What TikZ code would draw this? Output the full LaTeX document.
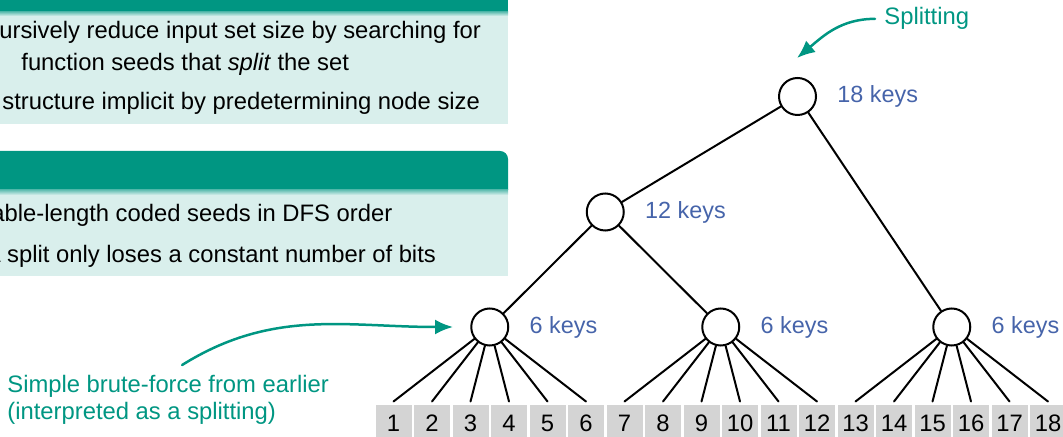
\documentclass[tikz,border=0pt]{standalone}
\usepackage{fontspec}
\setmainfont{Liberation Sans}
\usepackage{tikz}
\usetikzlibrary{arrows.meta,positioning}
\definecolor{kitgreen}{RGB}{0,150,130}
\definecolor{kitblue}{RGB}{70,100,170}

\begin{document}
\begin{tikzpicture}[x=0.5pt,y=0.5pt,>={Latex[length=9pt,width=7.5pt]},
  font=\fontsize{11.9pt}{14pt}\selectfont,line cap=round,
  splitnode/.style={circle,draw,line width=1pt,minimum size=18.5pt,inner sep=0pt,fill=white},
  keylab/.style={text=kitblue,inner sep=0pt,font=\fontsize{11.7pt}{14pt}\selectfont},
  keybox/.style={fill=black!17,minimum width=18pt,minimum height=18pt,inner sep=0pt,outer sep=1.75pt},
  blocktext/.style={anchor=base west,inner sep=0pt},
  notetext/.style={text=kitgreen,inner sep=0pt,align=left,font=\fontsize{11.9pt}{13.5pt}\selectfont},
  notearrow/.style={->,draw=kitgreen,line width=1.25pt},
  treeline/.style={line width=1pt}]
\useasboundingbox (0,0) rectangle (1063,-437);
\clip (0,0) rectangle (1063,-437);
\fill[kitgreen] (-20,20) rectangle (508,-12);
\shade[top color=kitgreen!60!white,bottom color=kitgreen!15] (-20,-12) rectangle (508,-16);
\fill[kitgreen!15] (-20,-16) rectangle (508,-124);
\fill[kitgreen] (-20,-190) -- (-20,-151) [rounded corners=4pt] -- (508,-151) [sharp corners] -- (508,-190) -- cycle;
\shade[top color=kitgreen!60!white,bottom color=kitgreen!15] (-20,-190) rectangle (508,-195);
\fill[kitgreen!15] (-20,-195) rectangle (508,-276);
\node[blocktext] (recurse) at (-1,-39) {ursively reduce input set size by searching for};
\node[blocktext] (seeds) at (21,-70.5) {function seeds that \emph{split} the set};
\node[blocktext] (implicit) at (2,-110) {structure implicit by predetermining node size};
\node[blocktext] (dfs) at (-9,-222) {able-length coded seeds in DFS order};
\node[blocktext] (loses) at (-13,-263) {a split only loses a constant number of bits};
\node[splitnode] (root) at (797.5,-96.5) {};
\node[splitnode] (mid12) at (605.25,-212) {};
\node[splitnode] (left6) at (489.75,-327) {};
\node[splitnode] (mid6) at (720.75,-327) {};
\node[splitnode] (right6) at (951.75,-327) {};
\node[keylab,right=10pt of root] (rootkeys) {18 keys};
\node[keylab,right=10pt of mid12] (mid12keys) {12 keys};
\node[keylab,right=10pt of left6] (left6keys) {6 keys};
\node[keylab,right=10pt of mid6] (mid6keys) {6 keys};
\node[keylab,right=10pt of right6] (right6keys) {6 keys};
\foreach \i in {1,...,18}
  \node[keybox] (k\i) at ({393.5+(\i-1)*38.5},-423) {\i};
\draw[treeline] (root) -- (mid12);
\draw[treeline] (root) -- (right6);
\draw[treeline] (mid12) -- (left6);
\draw[treeline] (mid12) -- (mid6);
\foreach \i in {1,...,6}
  \draw[treeline] (left6) -- (k\i.north);
\foreach \i in {7,...,12}
  \draw[treeline] (mid6) -- (k\i.north);
\foreach \i in {13,...,18}
  \draw[treeline] (right6) -- (k\i.north);
\node[notetext,anchor=base west] (splitnote) at (884,-25) {Splitting};
\coordinate (splittip) at (797,-58);
\draw[notearrow] ([xshift=-4.5pt]splitnote.west) to[out=180,in=40] (splittip);
\node[notetext,anchor=north west] (bfnote) at (7,-375) {Simple brute-force from earlier\\(interpreted as a splitting)};
\coordinate (bftip) at (453,-327);
\draw[notearrow] ([xshift=7pt,yshift=5pt]bfnote.north) to[out=32,in=180] (bftip);
\end{tikzpicture}
\end{document}
